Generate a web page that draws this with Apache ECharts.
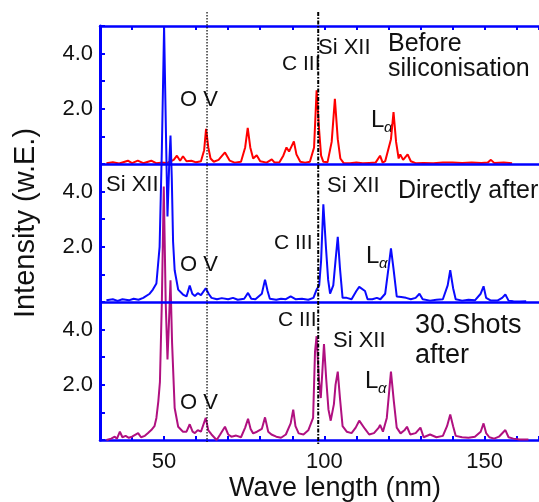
<!DOCTYPE html>
<html>
<head>
<meta charset="utf-8">
<script src="https://cdn.jsdelivr.net/npm/echarts@6/dist/echarts.min.js"></script>
<style>
  html, body { margin: 0; padding: 0; background: #fff; }
  #chart { width: 539px; height: 502px; }
</style>
</head>
<body>
<div id="chart"></div>
<script>
// wave length (nm) / intensity pairs
const beforeSpec = [
  [32, 0.03], [34, 0.06], [36, 0.02], [38.7, 0.12], [40, 0.03], [41.8, 0.12], [43.5, 0.03], [46, 0.12],
  [47.5, 0.03], [49, 0.05], [51, 0.04], [53, 0.15], [54, 0.3], [55, 0.12], [55.9, 0.28], [57, 0.1],
  [58.5, 0.12], [60, 0.06], [61.5, 0.1], [62.5, 0.5], [63.1, 1.27], [63.8, 0.6], [64.5, 0.2], [65.5, 0.08],
  [67, 0.15], [69, 0.42], [70.5, 0.12], [72, 0.05], [74, 0.08], [75.3, 0.6], [76.1, 1.31], [76.9, 0.6],
  [77.8, 0.2], [78.9, 0.32], [80, 0.1], [82, 0.05], [83.6, 0.17], [84.5, 0.05], [86, 0.06], [87.2, 0.3],
  [88.2, 0.6], [89, 0.45], [90.5, 0.82], [91.3, 0.35], [92.5, 0.08], [94, 0.05], [95.5, 0.08], [96.8, 0.6],
  [97.6, 2.67], [98.4, 1.2], [99, 0.3], [99.7, 0.08], [101, 0.06], [102.3, 0.8], [103.3, 2.36], [104.2, 0.9],
  [105, 0.2], [106, 0.04], [108, 0.03], [110, 0.05], [112, 0.03], [114, 0.04], [116, 0.05], [117.4, 0.3],
  [118.2, 0.05], [119, 0.1], [120.8, 0.9], [121.6, 1.88], [122.4, 0.8], [123.2, 0.2], [123.7, 0.35],
  [124.6, 0.15], [126, 0.35], [127, 0.1], [128.5, 0.03], [131, 0.04], [134, 0.03], [137, 0.05], [140, 0.05],
  [143, 0.04], [146, 0.05], [149, 0.04], [151, 0.05], [152, 0.15], [153, 0.04], [156, 0.05], [158.6, 0.03]
]
const directlySpec = [
  [32, 0.06], [34, 0.1], [35.5, 0.04], [37, 0.1], [39, 0.06], [40.5, 0.12], [42, 0.08], [43.5, 0.15],
  [45.5, 0.3], [46.5, 0.45], [47.6, 0.67], [48.6, 2.0], [49.3, 5.5], [50, 9.97], [50.6, 6], [51.06, 3.1],
  [51.6, 5], [52, 6.03], [52.4, 4.5], [52.8, 2.2], [53.3, 1.15], [54.4, 0.45], [55.9, 0.27], [57, 0.2],
  [58, 0.6], [58.8, 0.3], [59.6, 0.22], [60.5, 0.32], [61.5, 0.25], [63, 0.5], [64, 0.28], [64.8, 0.15],
  [66.5, 0.1], [68, 0.14], [70, 0.1], [71.5, 0.15], [73, 0.08], [75, 0.12], [76.2, 0.33], [77.2, 0.12],
  [78.5, 0.1], [80.5, 0.3], [81.5, 0.81], [82.3, 0.4], [83, 0.12], [85, 0.08], [86.5, 0.12], [88, 0.1],
  [89.5, 0.2], [91, 0.1], [93, 0.12], [95, 0.08], [96.6, 0.15], [97.6, 0.45], [98.4, 0.6], [99, 1.5],
  [99.7, 3.54], [100.5, 2], [101.2, 0.8], [101.8, 0.3], [102.8, 0.6], [103.5, 1.5], [104.2, 2.36],
  [104.9, 1.2], [105.7, 0.15], [107, 0.15], [108.5, 0.1], [110, 0.4], [110.9, 0.55], [112.7, 0.4],
  [113.5, 0.1], [115, 0.1], [116.4, 0.15], [117.5, 0.1], [119, 0.3], [120, 1.2], [120.8, 1.94], [121.6, 1.2],
  [122.6, 0.2], [124, 0.18], [125.5, 0.15], [127, 0.1], [128.5, 0.15], [129.7, 0.3], [130.7, 0.1], [133, 0.05],
  [135, 0.08], [137, 0.1], [138.5, 0.6], [139.3, 1.15], [140.2, 0.5], [141, 0.1], [143, 0.05], [145, 0.08],
  [147, 0.06], [148.8, 0.3], [149.7, 0.57], [150.5, 0.15], [152, 0.05], [154, 0.05], [155.5, 0.15],
  [156.5, 0.27], [157.5, 0.05], [159, 0.03], [161, 0.02], [163, 0.03]
]
const shotsSpec = [
  [32, 0.0], [33.5, 0.05], [34.6, 0.12], [35.3, 0.05], [36.2, 0.3], [37, 0.1], [38, 0.15], [39, 0.08],
  [40, 0.12], [41.9, 0.25], [42.8, 0.1], [44, 0.15], [45, 0.25], [46, 0.36], [47, 0.5], [47.6, 0.8],
  [48.2, 1.4], [48.7, 2.1], [49.3, 5], [49.9, 9.18], [50.5, 5], [51.06, 2.92], [51.6, 4.5], [52, 5.79],
  [52.5, 3.5], [53.3, 1.16], [54.4, 0.48], [55.9, 0.3], [57, 0.3], [58, 0.57], [58.9, 0.3], [59.6, 0.25],
  [60.5, 0.36], [61.5, 0.3], [63, 0.8], [63.8, 0.35], [64.8, 0.2], [66.4, 0.0], [67.5, 0.2], [69, 0.48],
  [70, 0.2], [71, 0.12], [72.5, 0.16], [74, 0.1], [75.3, 0.45], [76.2, 0.77], [77, 0.4], [77.8, 0.24],
  [79, 0.3], [80.5, 0.4], [81.5, 0.82], [82.5, 0.3], [83.5, 0.2], [85, 0.12], [86.5, 0.08], [88, 0.2],
  [89.5, 0.6], [90.3, 1.1], [91, 0.5], [92, 0.24], [93.5, 0.2], [95, 0.35], [96.5, 0.8], [97.1, 3.2],
  [97.6, 3.76], [98.3, 2.2], [98.9, 1.52], [99.4, 2.5], [99.9, 3.48], [100.6, 2.2], [101.3, 1.1], [102, 0.7],
  [103, 1.3], [103.5, 2], [104.2, 2.48], [104.9, 1.5], [105.7, 0.5], [107, 0.3], [108.5, 0.25], [109.8, 0.45],
  [110.9, 0.7], [112.7, 0.4], [114, 0.2], [115.5, 0.25], [117, 0.45], [117.4, 0.55], [118.3, 0.3],
  [119.5, 0.8], [120.8, 2.48], [121.7, 1.4], [122.6, 0.45], [123.8, 0.24], [125, 0.35], [125.8, 0.48],
  [126.8, 0.2], [128.5, 0.25], [130, 0.45], [131, 0.1], [133, 0.2], [135, 0.1], [137, 0.15], [138.3, 0.5],
  [139.3, 0.92], [140.2, 0.5], [141, 0.15], [143, 0.1], [145, 0.08], [147, 0.12], [148.8, 0.3], [149.7, 0.6],
  [150.5, 0.25], [151.5, 0.1], [153, 0.05], [154.5, 0.12], [156.5, 0.36], [157.5, 0.1], [159, 0.05],
  [161, 0.02], [163.7, 0.02]
]
const panelOffsets = [10, 5, 0] // each spectrum sits in its own 0..5 band
const xTickLabels = [50, 100, 150]
const guideLines = [63.4, 98.1] // O V and C III positions

const blue = '#0000ff'
const font = 'Liberation Sans, Arial, sans-serif'

const chart = echarts.init(document.getElementById('chart'), null, { renderer: 'canvas' })

const shift = (spec, off) => spec.map(([x, y]) => [x, y + off])

const xBase = {
  type: 'value',
  min: 30,
  max: 167,
  interval: 10,
  splitLine: { show: false },
  axisLine: { onZero: false, lineStyle: { color: blue, width: 2.5 } },
  axisTick: { inside: true, length: 4, lineStyle: { color: blue, width: 2 } }
}

const option = {
  animation: false,
  backgroundColor: '#fff',
  grid: { left: 100, right: 0, top: 26, bottom: 62, outerBoundsMode: 'none' },
  xAxis: [
    {
      ...xBase,
      position: 'bottom',
      axisLabel: {
        color: '#111',
        fontSize: 22,
        fontFamily: font,
        margin: 11,
        formatter: (v) => (xTickLabels.includes(v) ? String(v) : '')
      }
    },
    { ...xBase, position: 'top', axisLabel: { show: false } }
  ],
  yAxis: {
    type: 'value',
    min: 0,
    max: 15,
    interval: 1,
    splitLine: { show: false },
    axisLine: { lineStyle: { color: blue, width: 3 } },
    axisTick: { inside: true, length: 5, lineStyle: { color: blue, width: 2 } },
    axisLabel: {
      color: '#111',
      fontSize: 22,
      fontFamily: font,
      margin: 7,
      formatter: (v) => {
        const r = Math.round(v) % 5
        return r === 2 ? '2.0' : r === 4 ? '4.0' : ''
      }
    }
  },
  series: [
    {
      name: 'Before siliconisation',
      type: 'line',
      data: shift(beforeSpec, panelOffsets[0]),
      showSymbol: false,
      lineStyle: { color: '#ff0000', width: 2 }
    },
    {
      name: 'Directly after',
      type: 'line',
      data: shift(directlySpec, panelOffsets[1]),
      showSymbol: false,
      lineStyle: { color: '#0a0aff', width: 2 }
    },
    {
      name: '30.Shots after',
      type: 'line',
      data: shift(shotsSpec, panelOffsets[2]),
      showSymbol: false,
      lineStyle: { color: '#b01080', width: 2 },
      markLine: {
        silent: true,
        symbol: 'none',
        label: { show: false },
        lineStyle: { color: blue, width: 2.5, type: 'solid' },
        data: [{ yAxis: 5 }, { yAxis: 10 }]
      }
    }
  ]
}
chart.setOption(option)

// text labels: [text, left x, cap top y, font size]
const labels = [
  ['O V', 180, 92, 22], ['C III', 282, 57, 21], ['Si XII', 318, 40, 22],
  ['Before', 388, 35, 25], ['siliconisation', 388, 60, 25],
  ['Si XII', 106, 177, 22], ['O V', 180, 257, 22], ['C III', 274, 236, 21],
  ['Si XII', 327, 178, 22], ['Directly after', 398, 182, 25],
  ['C III', 278, 313, 21], ['Si XII', 333, 333, 22], ['O V', 180, 395, 22],
  ['30.Shots', 415, 316, 27], ['after', 415, 346, 27]
]
const lyman = [[371, 112], [366, 248], [365, 373]]

const graphic = []
labels.forEach(([t, x, capTop, fs]) => {
  graphic.push({
    type: 'text', x, y: capTop + fs * 0.358,
    style: { text: t, fill: '#111', font: fs + 'px ' + font, textAlign: 'left', textVerticalAlign: 'middle' }
  })
})
lyman.forEach(([x, capTop]) => {
  graphic.push({
    type: 'text', x, y: capTop + 24 * 0.358,
    style: { text: 'L', fill: '#111', font: '24px ' + font, textVerticalAlign: 'middle' }
  })
  graphic.push({
    type: 'text', x: x + 13, y: capTop + 16,
    style: { text: 'α', fill: '#111', font: 'italic 15px ' + font, textVerticalAlign: 'middle' }
  })
})
guideLines.forEach((nm, i) => {
  const px = chart.convertToPixel({ xAxisIndex: 0 }, nm)
  graphic.push({
    type: 'line',
    shape: { x1: px, y1: 12, x2: px, y2: i === 0 ? 442 : 445 },
    style: { stroke: '#000', lineWidth: i === 0 ? 1.2 : 2, lineDash: i === 0 ? [1.5, 1.5] : [4, 1.5, 1.5, 1.5] },
    z: 10
  })
})
graphic.push({
  type: 'text', x: 26, y: 223, rotation: Math.PI / 2,
  style: { text: 'Intensity (w.E.)', fill: '#111', font: '29px ' + font, textAlign: 'center', textVerticalAlign: 'middle' }
})
graphic.push({
  type: 'text', x: 335, y: 489,
  style: { text: 'Wave length (nm)', fill: '#111', font: '27px ' + font, textAlign: 'center', textVerticalAlign: 'middle' }
})
chart.setOption({ graphic })
</script>
</body>
</html>
